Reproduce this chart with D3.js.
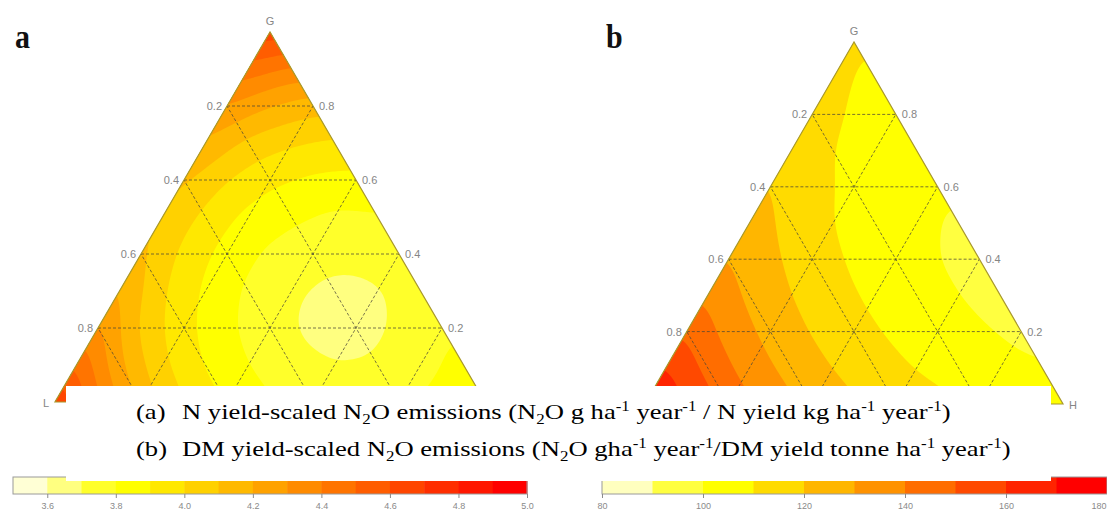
<!DOCTYPE html>
<html>
<head>
<meta charset="utf-8">
<script src="https://cdn.jsdelivr.net/npm/d3@7"></script>
<style>
  html, body { margin: 0; padding: 0; background: #fff; }
  svg { display: block; }
  .tern-label { font-family: "Liberation Sans", Arial, sans-serif; font-size: 11px; fill: #858585; }
  .caption text { font-family: "Liberation Serif", "Times New Roman", serif; font-size: 22px; fill: #000; white-space: pre; }
  .panel-letter { font-family: "Liberation Serif", "Times New Roman", serif; font-weight: bold; font-size: 30px; fill: #111; }
</style>
</head>
<body>
<div id="chart"></div>
<script>
// ============================================================
//  Ternary contour plots (a) and (b) with colour keys
// ============================================================

// --- Data ---
// grid lines / edge tick values of the ternary axes
const gridTicks = [0.2, 0.4, 0.6, 0.8];

// (a) N yield-scaled N2O: readings at lattice nodes, one row per G = 0, 0.1 ... 1.0,
//     entries run H = 0, 0.1 ... (1 - G)
const nYieldRows = [
    [4.71, 4.42, 4.17, 4.00, 3.89, 3.81, 3.76, 3.75, 3.78, 3.84, 3.94],
    [4.50, 4.22, 4.02, 3.89, 3.80, 3.73, 3.70, 3.71, 3.76, 3.84],
    [4.33, 4.08, 3.93, 3.82, 3.73, 3.68, 3.67, 3.71, 3.78],
    [4.21, 4.01, 3.88, 3.78, 3.71, 3.68, 3.69, 3.74],
    [4.13, 3.97, 3.86, 3.78, 3.73, 3.72, 3.75],
    [4.10, 3.97, 3.87, 3.82, 3.78, 3.79],
    [4.12, 4.00, 3.92, 3.88, 3.87],
    [4.19, 4.07, 4.01, 3.98],
    [4.30, 4.20, 4.14],
    [4.46, 4.38],
    [4.67]
];
const nYieldLevels = [3.5, 3.6, 3.7, 3.8, 3.9, 4.0, 4.1, 4.2, 4.3, 4.4, 4.5, 4.6, 4.7, 4.8, 4.9, 5.0];
const nYieldColors = ['#FFFFD5', '#FFFF80', '#FFFF2A', '#FFFF00', '#FFE800', '#FFD100', '#FFB900', '#FFA200',
                      '#FF8B00', '#FF7400', '#FF5D00', '#FF4600', '#FF2E00', '#FF1700', '#FF0000'];
const nYieldTicks = [3.6, 3.8, 4.0, 4.2, 4.4, 4.6, 4.8, 5.0];

// (b) DM yield-scaled N2O, same lattice layout
const dmYieldRows = [
    [174.3, 159.6, 147.0, 135.9, 127.4, 121.2, 116.2, 112.0, 109.2, 107.0, 106.0],
    [160.6, 147.2, 135.4, 126.5, 119.7, 114.1, 109.4, 106.7, 103.5, 100.5],
    [148.8, 136.4, 126.7, 119.3, 113.2, 108.3, 105.0, 101.5, 97.5],
    [138.6, 127.9, 120.0, 113.3, 108.0, 104.1, 100.2, 95.5],
    [130.1, 121.9, 114.6, 108.5, 104.3, 100.2, 96.0],
    [124.8, 117.0, 109.9, 105.2, 102.0, 98.5],
    [120.3, 113.1, 107.5, 104.0, 101.5],
    [117.2, 110.0, 105.3, 104.0],
    [114.9, 108.6, 104.5],
    [112.5, 107.5],
    [111.5]
];
const dmYieldLevels = [80, 90, 100, 110, 120, 130, 140, 150, 160, 170, 180];
const dmYieldColors = ['#FFFFBF', '#FFFF40', '#FFFF00', '#FFDB00', '#FFB600',
                       '#FF9200', '#FF6D00', '#FF4900', '#FF2400', '#FF0000'];
const dmYieldTicks = [80, 100, 120, 140, 160, 180];

// caption lines: [text, 'sub' | 'sup' | '']
const captionTags = ['(a)', '(b)'];
const captionParts = [
    [['N yield-scaled N', ''], ['2', 'sub'], ['O emissions (N', ''], ['2', 'sub'], ['O g ha', ''], ['-1', 'sup'],
     [' year', ''], ['-1', 'sup'], [' / N yield kg ha', ''], ['-1', 'sup'], [' year', ''], ['-1', 'sup'], [')', '']],
    [['DM yield-scaled N', ''], ['2', 'sub'], ['O emissions (N', ''], ['2', 'sub'], ['O gha', ''], ['-1', 'sup'],
     [' year', ''], ['-1', 'sup'], ['/DM yield tonne ha', ''], ['-1', 'sup'], [' year', ''], ['-1', 'sup'], [')', '']]
];

// --- Layout ---
const W = 1107, H = 513;
const BAR_TOP = 477, BAR_BOTTOM = 494;

const svg = d3.select('#chart').append('svg')
    .attr('width', W)
    .attr('height', H);
const defs = svg.append('defs');

renderTernary({ id: 'a', rows: nYieldRows, levels: nYieldLevels, colors: nYieldColors,
    apexY: 32, baseY: 402, leftX: 55, rightX: 485, showL: true, showH: false });
renderTernary({ id: 'b', rows: dmYieldRows, levels: dmYieldLevels, colors: dmYieldColors,
    apexY: 42, baseY: 404, leftX: 645, rightX: 1063, showL: false, showH: true });

renderColorBar({ levels: nYieldLevels, colors: nYieldColors, ticks: nYieldTicks,
    x0: 13, x1: 527, format: d3.format('.1f') });
renderColorBar({ levels: dmYieldLevels, colors: dmYieldColors, ticks: dmYieldTicks,
    x0: 602, x1: 1107, format: d3.format('d') });

// panel letters
svg.append('text').attr('class', 'panel-letter')
    .attr('transform', 'translate(15,48) scale(1,1.15)').text('a');
svg.append('text').attr('class', 'panel-letter')
    .attr('transform', 'translate(606,48) scale(1,1.15)').text('b');

// --- Caption box laid over the plots ---
svg.append('rect')
    .attr('x', 66).attr('y', 386)
    .attr('width', 985).attr('height', 95)
    .attr('fill', '#fff');

const SX = 1.21;
const cap = svg.append('g').attr('class', 'caption');
captionParts.forEach((parts, k) => {
    const line = cap.append('g')
        .attr('transform', `translate(0,${419 + k * 37}) scale(${SX},1)`);
    line.append('text').attr('x', 136 / SX).text(captionTags[k]);

    const t = line.append('text').attr('x', 182 / SX);
    let shift = 0;
    parts.forEach(([s, kind]) => {
        const target = kind === 'sub' ? 5 : kind === 'sup' ? -8 : 0;
        t.append('tspan')
            .attr('dy', target - shift)
            .attr('font-size', kind ? 14 : null)
            .text(s);
        shift = target;
    });
});

// ============================================================
function renderTernary(p) {
    const gY = d3.scaleLinear().domain([0, 1]).range([p.baseY, p.apexY]);
    const hX = d3.scaleLinear().domain([0, 1]).range([p.leftX, p.rightX]);
    const pt = (g, h) => [hX(h + g / 2), gY(g)];
    const fmt = d3.format('.1f');

    const root = svg.append('g');

    // --- Surface from the lattice readings (linear on each lattice triangle) ---
    const n = p.rows.length - 1;
    const r = p.rows;
    function surface(g, h) {
        g = Math.max(0, Math.min(1, g));
        h = Math.max(0, Math.min(1 - g, h));
        const a = g * n, b = h * n;
        const i = Math.min(Math.floor(a), n);
        const j = Math.min(Math.floor(b), n - i);
        if (i + j >= n) return r[i][n - i];
        const fa = a - i, fb = b - j;
        if (fa + fb <= 1 || i + j + 2 > n) {
            const wa = Math.min(fa, 1), wb = Math.min(fb, 1 - wa);
            return r[i][j] * (1 - wa - wb) + r[i + 1][j] * wa + r[i][j + 1] * wb;
        }
        return r[i + 1][j + 1] * (fa + fb - 1) + r[i + 1][j] * (1 - fb) + r[i][j + 1] * (1 - fa);
    }

    const step = 2;
    const nx = Math.ceil((p.rightX - p.leftX) / step) + 2;
    const ny = Math.ceil((p.baseY - p.apexY) / step) + 2;
    const grid = new Float64Array(nx * ny);
    for (let row = 0; row < ny; row++) {
        for (let c = 0; c < nx; c++) {
            const g = gY.invert(p.apexY + row * step);
            const h = hX.invert(p.leftX + c * step) - g / 2;
            const v = surface(g, h);
            grid[row * nx + c] = isFinite(v) ? v : r[0][0];
        }
    }
    // soften the facets of the linear lattice
    if (d3.blur2) d3.blur2({ data: grid, width: nx, height: ny }, 5);

    const color = d3.scaleThreshold().domain(p.levels.slice(1, -1)).range(p.colors);
    const bands = d3.contours().size([nx, ny]).thresholds(p.levels.slice(0, -1))(grid);
    const proj = d3.geoIdentity().scale(step).translate([p.leftX - step / 2, p.apexY - step / 2]);

    const corners = [pt(1, 0), pt(0, 0), pt(0, 1)];
    const clipId = 'clip-' + p.id;
    defs.append('clipPath').attr('id', clipId)
        .append('path').attr('d', d3.line()(corners) + 'Z');

    root.append('g')
        .attr('clip-path', `url(#${clipId})`)
        .selectAll('path')
        .data(bands)
        .join('path')
        .attr('d', d3.geoPath(proj))
        .attr('fill', d => color(d.value));

    // --- Dashed grid ---
    const gridLines = [];
    gridTicks.forEach(t => {
        gridLines.push([pt(t, 0), pt(t, 1 - t)]);          // G = t
        gridLines.push([pt(0, t), pt(1 - t, t)]);          // H = t
        gridLines.push([pt(0, 1 - t), pt(1 - t, 0)]);      // L = t
    });
    root.append('g')
        .selectAll('path')
        .data(gridLines)
        .join('path')
        .attr('d', d3.line())
        .attr('fill', 'none')
        .attr('stroke', '#4a463a')
        .attr('stroke-width', 1)
        .attr('stroke-dasharray', '3,2')
        .attr('opacity', 0.75);

    // --- Outline ---
    root.append('path')
        .attr('d', d3.line()(corners) + 'Z')
        .attr('fill', 'none')
        .attr('stroke', '#a8982e')
        .attr('stroke-width', 1.2);

    // --- Edge labels: L on the left edge, G on the right edge ---
    root.selectAll('.lab-l')
        .data(gridTicks)
        .join('text')
        .attr('class', 'tern-label lab-l')
        .attr('x', t => pt(1 - t, 0)[0] - 5)
        .attr('y', t => pt(1 - t, 0)[1] + 4)
        .attr('text-anchor', 'end')
        .text(fmt);

    root.selectAll('.lab-g')
        .data(gridTicks)
        .join('text')
        .attr('class', 'tern-label lab-g')
        .attr('x', t => pt(t, 1 - t)[0] + 6)
        .attr('y', t => pt(t, 1 - t)[1] + 4)
        .text(fmt);

    // --- Vertex names ---
    const apex = pt(1, 0);
    root.append('text').attr('class', 'tern-label')
        .attr('x', apex[0]).attr('y', apex[1] - 7)
        .attr('text-anchor', 'middle').text('G');
    if (p.showL) {
        root.append('text').attr('class', 'tern-label')
            .attr('x', p.leftX - 6).attr('y', p.baseY + 5)
            .attr('text-anchor', 'end').text('L');
    }
    if (p.showH) {
        root.append('text').attr('class', 'tern-label')
            .attr('x', p.rightX + 6).attr('y', p.baseY + 5).text('H');
    }
}

// --- Helper: horizontal colour key under a panel ---
function renderColorBar(p) {
    const x = d3.scaleLinear().domain(d3.extent(p.levels)).range([p.x0, p.x1]);
    const g = svg.append('g');

    g.selectAll('rect')
        .data(d3.pairs(p.levels))
        .join('rect')
        .attr('x', d => x(d[0]))
        .attr('width', d => x(d[1]) - x(d[0]) + 0.5)
        .attr('y', BAR_TOP)
        .attr('height', BAR_BOTTOM - BAR_TOP)
        .attr('fill', (d, i) => p.colors[i]);

    g.append('rect')
        .attr('x', p.x0).attr('y', BAR_TOP)
        .attr('width', p.x1 - p.x0).attr('height', BAR_BOTTOM - BAR_TOP)
        .attr('fill', 'none')
        .attr('stroke', '#9a9a9a');

    const axis = g.append('g')
        .attr('transform', `translate(0,${BAR_BOTTOM})`)
        .call(d3.axisBottom(x).tickValues(p.ticks).tickSize(4).tickPadding(5).tickFormat(p.format));
    axis.select('.domain').remove();
    axis.selectAll('line').attr('stroke', '#8a8a8a');
    axis.selectAll('text')
        .attr('fill', '#8a8a8a')
        .attr('font-size', 9)
        .attr('font-family', '"Liberation Sans", Arial, sans-serif');

    // keep the last label inside the picture when the key reaches the edge
    axis.selectAll('.tick text')
        .filter(d => x(d) > W - 8)
        .attr('text-anchor', 'end')
        .attr('x', W - x(p.ticks[p.ticks.length - 1]) - 1);
}
</script>
</body>
</html>
